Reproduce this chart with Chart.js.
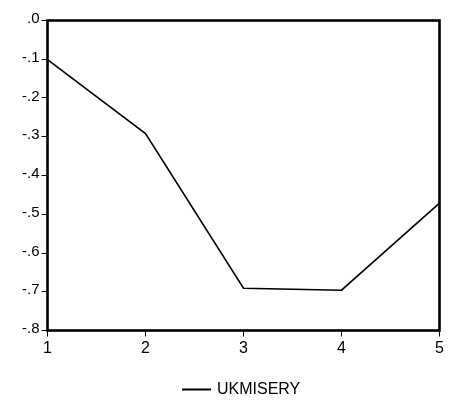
<!DOCTYPE html>
<html>
<head>
<meta charset="utf-8">
<script src="https://cdn.jsdelivr.net/npm/chart.js@4/dist/chart.umd.min.js"></script>
<style>
html,body{margin:0;padding:0;background:#fff;}
canvas{display:block;}
</style>
</head>
<body>
<canvas id="c" width="459" height="401"></canvas>
<script>
const categories = [1, 2, 3, 4, 5];
const ukmisery = [-0.101, -0.292, -0.691, -0.696, -0.471];
const seriesName = "UKMISERY";
const yTicks = [0, -0.1, -0.2, -0.3, -0.4, -0.5, -0.6, -0.7, -0.8];

function fmt(v) {
  let s = Math.abs(v) < 1e-9 ? "0.0" : v.toFixed(1);
  return s.replace(/^(-?)0\./, "$1.");
}

const FONT = "'Liberation Sans', Arial, sans-serif";

const boxPlugin = {
  id: 'box',
  afterDatasetsDraw(chart) {
    const {ctx, chartArea: a} = chart;
    ctx.save();
    ctx.strokeStyle = '#000';
    ctx.lineWidth = 2.6;
    ctx.strokeRect(a.left, a.top, a.right - a.left, a.bottom - a.top);
    ctx.restore();
  }
};

const legendPlugin = {
  id: 'customLegend',
  afterDraw(chart) {
    const ctx = chart.ctx;
    const ds = chart.data.datasets[0];
    ctx.save();
    ctx.strokeStyle = '#000';
    ctx.lineWidth = 2;
    ctx.beginPath();
    ctx.moveTo(182, 389.5);
    ctx.lineTo(211, 389.5);
    ctx.stroke();
    ctx.fillStyle = '#000';
    ctx.font = "16px " + FONT;
    ctx.textBaseline = 'middle';
    ctx.textAlign = 'left';
    ctx.fillText(ds.label, 217, 389.5);
    ctx.restore();
  }
};

new Chart(document.getElementById('c'), {
  type: 'line',
  data: {
    datasets: [{
      label: seriesName,
      data: categories.map((c, i) => ({x: c, y: ukmisery[i]})),
      borderColor: '#000',
      borderWidth: 1.6,
      pointRadius: 0,
      tension: 0,
      fill: false
    }]
  },
  options: {
    responsive: false,
    animation: false,
    devicePixelRatio: 1,
    layout: {padding: {top: 20.5, right: 19.5, left: 0, bottom: 40.5}},
    plugins: {legend: {display: false}, tooltip: {enabled: false}},
    scales: {
      x: {
        type: 'linear',
        min: 1, max: 5,
        afterBuildTicks(s) { s.ticks = categories.map(v => ({value: v})); },
        afterFit(s) { s.height = 30; },
        grid: {display: true, drawOnChartArea: false, drawTicks: true, tickLength: 6, color: '#000', lineWidth: 1},
        border: {display: false},
        ticks: {color: '#000', font: {family: FONT, size: 16}, padding: 2, maxRotation: 0,
          callback: v => String(v)}
      },
      y: {
        type: 'linear',
        min: -0.8, max: 0,
        afterBuildTicks(s) { s.ticks = yTicks.map(v => ({value: v})); },
        afterFit(s) { s.width = 47.5; },
        grid: {display: true, drawOnChartArea: false, drawTicks: true, tickLength: 6, color: '#000', lineWidth: 1},
        border: {display: false},
        ticks: {color: '#000', font: {family: FONT, size: 15}, padding: 2, labelOffset: -1.5,
          callback: v => fmt(v)}
      }
    }
  },
  plugins: [boxPlugin, legendPlugin]
});
</script>
</body>
</html>
